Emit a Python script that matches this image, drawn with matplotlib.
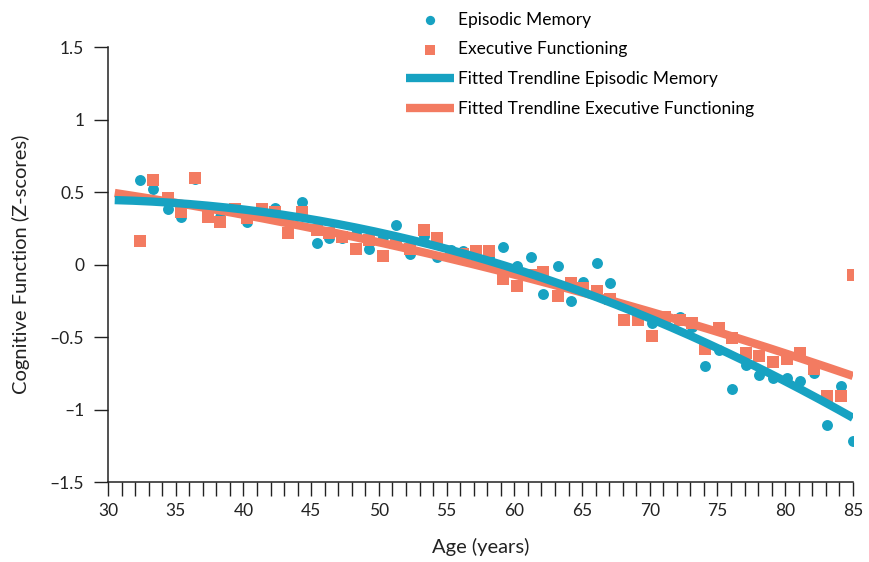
import numpy as np
import matplotlib
matplotlib.use("Agg")
import matplotlib.pyplot as plt
from matplotlib.ticker import MultipleLocator, FuncFormatter

plt.rcParams["font.family"] = ["Lato", "DejaVu Sans"]

# ages of the plotted points (years)
ages = [32.4, 33.3, 34.4, 35.4, 36.4, 37.4, 38.3, 39.4, 40.3, 41.4,
        42.3, 43.3, 44.3, 45.4, 46.3, 47.3, 48.3, 49.3, 50.3, 51.3,
        52.3, 53.3, 54.3, 55.3, 56.2, 57.2, 58.1, 59.2, 60.2, 61.2,
        62.1, 63.2, 64.2, 65.1, 66.1, 67.1, 68.1, 69.1, 70.2, 71.1,
        72.2, 73.1, 74.1, 75.1, 76.1, 77.1, 78.1, 79.1, 80.1, 81.1,
        82.1, 83.1, 84.1, 85.0]

episodic = [0.58, 0.52, 0.38, 0.33, 0.59, 0.40, 0.33, 0.39, 0.29, 0.35,
            0.39, 0.32, 0.43, 0.15, 0.18, 0.18, 0.21, 0.11, 0.19, 0.27,
            0.07, 0.20, 0.05, 0.10, 0.09, 0.07, 0.05, 0.12, -0.01, 0.05,
            -0.20, -0.01, -0.25, -0.12, 0.01, -0.13, -0.38, -0.36, -0.40, -0.36,
            -0.36, -0.43, -0.70, -0.59, -0.86, -0.69, -0.76, -0.78, -0.78, -0.80,
            -0.75, -1.11, -0.84, -1.22]

executive = [0.16, 0.58, 0.46, 0.36, 0.60, 0.33, 0.29, 0.38, 0.32, 0.38,
             0.36, 0.22, 0.36, 0.24, 0.22, 0.19, 0.11, 0.17, 0.06, 0.15,
             0.11, 0.24, 0.18, 0.07, 0.07, 0.09, 0.09, -0.10, -0.15, -0.07,
             -0.05, -0.22, -0.13, -0.16, -0.18, -0.24, -0.38, -0.38, -0.49, -0.36,
             -0.38, -0.40, -0.58, -0.44, -0.51, -0.61, -0.63, -0.67, -0.65, -0.61,
             -0.72, -0.91, -0.91, -0.07]

BLUE = "#17a2c2"
ORANGE = "#f37b61"
INK = "#222222"

fig = plt.figure(figsize=(8.7, 5.62), dpi=100)
ax = fig.add_axes([0.1241, 0.1423, 0.8563, 0.774])

ax.scatter(ages, episodic, s=62, color=BLUE, marker="o", linewidths=0,
           label="Episodic Memory", zorder=3)
ax.scatter(ages, executive, s=70, color=ORANGE, marker="s", linewidths=0,
           label="Executive Functioning", zorder=3)

# quadratic trendlines fitted to the points
xs = np.linspace(30.5, 85, 200)
fit_em = np.polyfit(ages, episodic, 2)
fit_ef = np.polyfit(ages, executive, 2)
ax.plot(xs, np.polyval(fit_em, xs), color=BLUE, lw=6, solid_capstyle="butt",
        label="Fitted Trendline Episodic Memory", zorder=5)
ax.plot(xs, np.polyval(fit_ef, xs), color=ORANGE, lw=6, solid_capstyle="butt",
        label="Fitted Trendline Executive Functioning", zorder=4)

ax.set_xlim(30, 85)
ax.set_ylim(-1.5, 1.5)
ax.xaxis.set_major_locator(MultipleLocator(5))
ax.xaxis.set_minor_locator(MultipleLocator(1))
ax.yaxis.set_major_locator(MultipleLocator(0.5))
ax.yaxis.set_major_formatter(FuncFormatter(lambda v, p: f"{v:g}".replace("-", "\u2013")))

for side in ("top", "right"):
    ax.spines[side].set_visible(False)
for side in ("left", "bottom"):
    ax.spines[side].set_linewidth(1.1)
    ax.spines[side].set_color(INK)
ax.tick_params(axis="both", which="both", direction="out", length=10, width=1.0,
               color=INK, labelsize=12.5, labelcolor=INK)
ax.tick_params(axis="x", which="both", pad=5)
ax.tick_params(axis="y", pad=7)

ax.set_xlabel("Age (years)", fontsize=14.5, color=INK, labelpad=14)
ax.set_ylabel("Cognitive Function (Z-scores)", fontsize=14.5, color=INK, labelpad=14)

handles, labels = ax.get_legend_handles_labels()
fig.legend(handles, labels, loc="upper left", bbox_to_anchor=(0.4545, 0.998),
           frameon=False, fontsize=12.5, handlelength=2.8, handletextpad=0.2,
           labelspacing=0.8, borderpad=0.1, scatterpoints=1, markerscale=0.85)

fig.savefig("out.png", dpi=100)
